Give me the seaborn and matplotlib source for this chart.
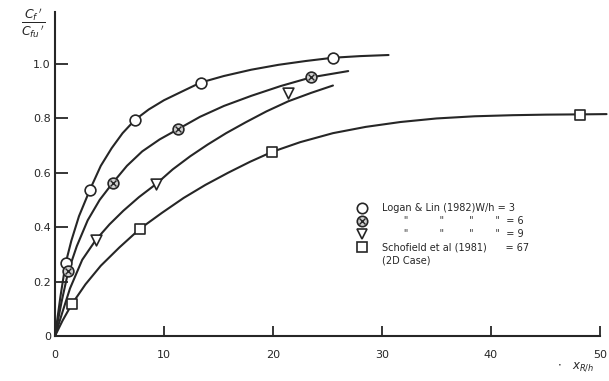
import matplotlib
matplotlib.use("Agg")
import matplotlib.pyplot as plt
import pandas as pd
import seaborn as sns
from matplotlib.lines import Line2D

sns.set_theme(style="ticks")
plt.rcParams['font.family'] = ['DejaVu Sans']

x_wh3 = [0.98, 3.2, 7.34, 13.37, 25.5]
y_wh3 = [0.268, 0.537, 0.794, 0.931, 1.022]
x_wh6 = [1.22, 5.29, 11.3, 23.5]
y_wh6 = [0.238, 0.562, 0.76, 0.95]
x_wh9 = [3.73, 9.27, 21.4]
y_wh9 = [0.352, 0.558, 0.891]
x_2d = [1.53, 7.8, 19.9, 48.2]
y_2d = [0.116, 0.394, 0.676, 0.813]

# ---- fitted curves ----
cx_wh3 = [0, 0.5, 0.98, 1.5, 2.2, 3.2, 4.2, 5.2, 6.2, 7.34, 8.6, 10, 11.6, 13.37,
          15.5, 18, 20.5, 23, 25.5, 28, 30.6]
cy_wh3 = [0, 0.145, 0.268, 0.35, 0.44, 0.537, 0.625, 0.69, 0.745, 0.794, 0.832, 0.866,
          0.897, 0.931, 0.955, 0.978, 0.996, 1.010, 1.022, 1.028, 1.032]
cx_wh6 = [0, 0.6, 1.22, 2.0, 3.0, 4.1, 5.29, 6.6, 8.0, 9.6, 11.3, 13.3, 15.5, 18,
          20.7, 23.5, 26.9]
cy_wh6 = [0, 0.125, 0.238, 0.33, 0.425, 0.5, 0.562, 0.625, 0.678, 0.722, 0.76, 0.805,
          0.845, 0.882, 0.918, 0.95, 0.973]
cx_wh9 = [0, 0.7, 1.38, 2.5, 3.73, 5.0, 6.27, 7.7, 9.27, 10.8, 12.4, 14.0, 15.7, 17.5,
          19.4, 21.4, 23.5, 25.5]
cy_wh9 = [0, 0.09, 0.175, 0.28, 0.352, 0.41, 0.46, 0.51, 0.558, 0.612, 0.66, 0.703,
          0.745, 0.785, 0.825, 0.862, 0.893, 0.92]
cx_2d = [0, 0.7, 1.53, 2.8, 4.2, 5.9, 7.8, 9.8, 11.8, 13.8, 15.9, 17.9, 19.9, 22.5,
         25.5, 28.5, 31.7, 35, 38.5, 42, 45, 48.2, 50.6]
cy_2d = [0, 0.057, 0.116, 0.19, 0.258, 0.325, 0.394, 0.452, 0.507, 0.555, 0.6, 0.64,
         0.676, 0.712, 0.745, 0.768, 0.786, 0.799, 0.807, 0.811, 0.813, 0.814, 0.815]

y_ticks = [0, 0.2, 0.4, 0.6, 0.8, 1.0]
y_ticklabels = ['0', '0.2', '0.4', '0.6', '0.8', '1.0']
x_ticks = [0, 10, 20, 30, 40, 50]
x_ticklabels = ['0', '10', '20', '30', '40', '50']

legend_labels = [
    'Logan & Lin (1982)W/h = 3',
    '       "          "        "       "  = 6',
    '       "          "        "       "  = 9',
    'Schofield et al (1981)      = 67',
    '(2D Case)',
]

INK = '#262626'
fig = plt.figure(figsize=(6.09, 3.81), dpi=100)
ax = fig.add_axes([55 / 609, 45 / 381, 545 / 609, 324 / 381])

for cx, cy in [(cx_wh3, cy_wh3), (cx_wh6, cy_wh6), (cx_wh9, cy_wh9), (cx_2d, cy_2d)]:
    df = pd.DataFrame({'x': cx, 'y': cy})
    sns.lineplot(data=df, x='x', y='y', ax=ax, sort=False, estimator=None,
                 color=INK, lw=1.5, clip_on=False, zorder=2)

ms = 60
sns.scatterplot(x=x_wh3, y=y_wh3, ax=ax, marker='o', s=ms, facecolor='white',
                edgecolor=INK, linewidth=1.2, zorder=3, clip_on=False)
sns.scatterplot(x=x_wh6, y=y_wh6, ax=ax, marker='o', s=ms, facecolor='#cfcfcf',
                edgecolor=INK, linewidth=1.2, zorder=3)
sns.scatterplot(x=x_wh6, y=y_wh6, ax=ax, marker='x', s=18, color=INK,
                linewidth=1.0, zorder=4)
sns.scatterplot(x=x_wh9, y=y_wh9, ax=ax, marker='v', s=ms, facecolor='white',
                edgecolor=INK, linewidth=1.2, zorder=3)
sns.scatterplot(x=x_2d, y=y_2d, ax=ax, marker='s', s=ms, facecolor='white',
                edgecolor=INK, linewidth=1.2, zorder=3)

ax.set_xlim(0, 50)
ax.set_ylim(0, 1.19)
ax.set_xticks(x_ticks)
ax.set_xticklabels(x_ticklabels)
ax.set_yticks(y_ticks)
ax.set_yticklabels(y_ticklabels)
ax.set_xlabel('')
ax.set_ylabel('')
for s in ['top', 'right']:
    ax.spines[s].set_visible(False)
for s in ['left', 'bottom']:
    ax.spines[s].set_color(INK)
    ax.spines[s].set_linewidth(1.5)
ax.tick_params(axis='y', direction='in', length=9, width=1.3, colors=INK,
               labelsize=8, pad=3)
ax.tick_params(axis='x', direction='in', length=7, width=1.3, colors=INK,
               labelsize=8, pad=10)

# y-axis label as a fraction at top-left
ax.text(-0.04, 0.965, r"$\dfrac{C_f\,'}{C_{fu}\,'}$", transform=ax.transAxes,
        ha='center', va='center', fontsize=9, color=INK)
# x-axis label at bottom-right
ax.text(0.955, -0.095, r"$\cdot\ \ \ x_{R/h}$", transform=ax.transAxes,
        ha='center', va='center', fontsize=8.5, color=INK)

h_o = Line2D([], [], marker='o', ls='none', mfc='white', mec=INK, mew=1.2, ms=7.5)
h_oc = Line2D([], [], marker='o', ls='none', mfc='#cfcfcf', mec=INK, mew=1.2, ms=7.5)
h_x = Line2D([], [], marker='x', ls='none', mec=INK, mew=1.0, ms=4)
h_v = Line2D([], [], marker='v', ls='none', mfc='white', mec=INK, mew=1.2, ms=7.5)
h_s = Line2D([], [], marker='s', ls='none', mfc='white', mec=INK, mew=1.2, ms=7.5)
h_blank = Line2D([], [], ls='none')
leg = ax.legend([h_o, (h_oc, h_x), h_v, h_s, h_blank], legend_labels,
                loc='upper left', bbox_to_anchor=(0.552, 0.41), frameon=False,
                fontsize=7, handlelength=1.2, handletextpad=1.5, labelspacing=0.32,
                borderpad=0, borderaxespad=0)
for t in leg.get_texts():
    t.set_color(INK)

fig.savefig('out.png', dpi=100, facecolor='white')
